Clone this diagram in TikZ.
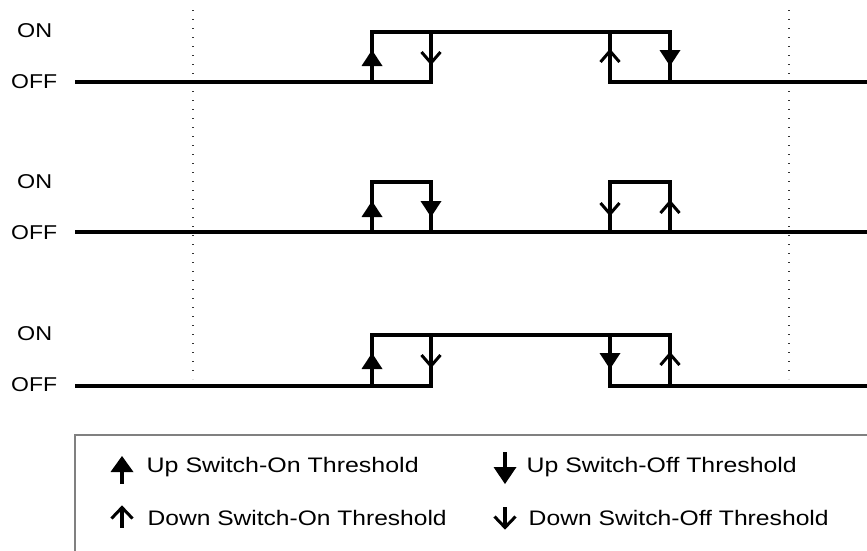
\documentclass[tikz,border=0pt]{standalone}
\usepackage{fontspec}
\setmainfont{Liberation Sans}
\usepackage{graphicx}
\begin{document}
\begin{tikzpicture}[x=1pt,y=-1pt,
  wave/.style={line width=3.4pt,line cap=butt,line join=miter},
  guide/.style={line width=1.4pt,dash pattern=on 1.4pt off 7.6pt,black!80},
  frame/.style={line width=1.6pt,black!50},
  lvl/.style={inner sep=0pt,anchor=base west,font=\fontsize{20}{22}\selectfont},
  legtext/.style={inner sep=0pt,anchor=base west,font=\fontsize{21}{24}\selectfont},
  % markers: filled triangles and open chevrons, centred on the edge midpoint
  fillup/.pic={\fill (0,-7) -- (10.5,9) -- (-10.5,9) -- cycle;},
  filldown/.pic={\fill (-10.5,-7) -- (10.5,-7) -- (0,9) -- cycle;},
  openup/.pic={\draw[line width=3pt,line join=miter] (-9.5,5) -- (0,-6) -- (9.5,5);},
  opendown/.pic={\draw[line width=3pt,line join=miter] (-9.5,-5) -- (0,6) -- (9.5,-5);}
]
\useasboundingbox (0,0) rectangle (867,550);
\clip (0,0) rectangle (867,550);

% time markers
\draw[guide] (193,10) -- (193,379);
\draw[guide] (789,10) -- (789,379);

% level labels
\foreach \row/\on/\off in {1/37/88, 2/188/239, 3/340/391}{
  \node[lvl] (on\row)  at (17,\on)  {\resizebox{35pt}{\height}{ON}};
  \node[lvl] (off\row) at (11,\off) {\resizebox{46pt}{\height}{OFF}};
}

% trace 1 (ON 32, OFF 82)
\draw[wave] (75,82) -- (431,82) -- (431,32);
\draw[wave] (372,82) -- (372,32) -- (670,32) -- (670,82);
\draw[wave] (610,32) -- (610,82) -- (867,82);
\pic at (372,57) {fillup};
\pic at (431,57) {opendown};
\pic at (610,57) {openup};
\pic at (670,57) {filldown};

% trace 2 (ON 182, OFF 232)
\draw[wave] (75,232) -- (867,232);
\draw[wave] (372,232) -- (372,182) -- (431,182) -- (431,232);
\draw[wave] (610,232) -- (610,182) -- (670,182) -- (670,232);
\pic at (372,208) {fillup};
\pic at (431,208) {filldown};
\pic at (610,208) {opendown};
\pic at (670,208) {openup};

% trace 3 (ON 335, OFF 386)
\draw[wave] (75,386) -- (431,386) -- (431,335);
\draw[wave] (372,386) -- (372,335) -- (670,335) -- (670,386);
\draw[wave] (610,335) -- (610,386) -- (867,386);
\pic at (372,360) {fillup};
\pic at (431,360) {opendown};
\pic at (610,360) {filldown};
\pic at (670,360) {openup};

% legend
\draw[frame] (75,435) rectangle (885,565);
% legend symbols
\fill (110.5,472) -- (122,456) -- (133.5,472) -- cycle;
\draw[line width=3.2pt] (122,470) -- (122,484);
\draw[line width=3.2pt] (122,508) -- (122,528);
\draw[line width=3pt,line join=miter] (111.5,518.5) -- (122,507.5) -- (132.5,518.5);
\draw[line width=3.2pt] (505,452) -- (505,470);
\fill (493.5,467) -- (516.5,467) -- (505,484) -- cycle;
\draw[line width=3.2pt] (505,507) -- (505,527);
\draw[line width=3pt,line join=miter] (494.5,516.5) -- (505,527.5) -- (515.5,516.5);

\node[legtext] (l1) at (146.5,472) {\resizebox{272pt}{\height}{Up Switch-On Threshold}};
\node[legtext] (l2) at (147.5,525) {\resizebox{299pt}{\height}{Down Switch-On Threshold}};
\node[legtext] (l3) at (526.5,472) {\resizebox{270pt}{\height}{Up Switch-Off Threshold}};
\node[legtext] (l4) at (528.5,525) {\resizebox{300pt}{\height}{Down Switch-Off Threshold}};
\end{tikzpicture}
\end{document}
